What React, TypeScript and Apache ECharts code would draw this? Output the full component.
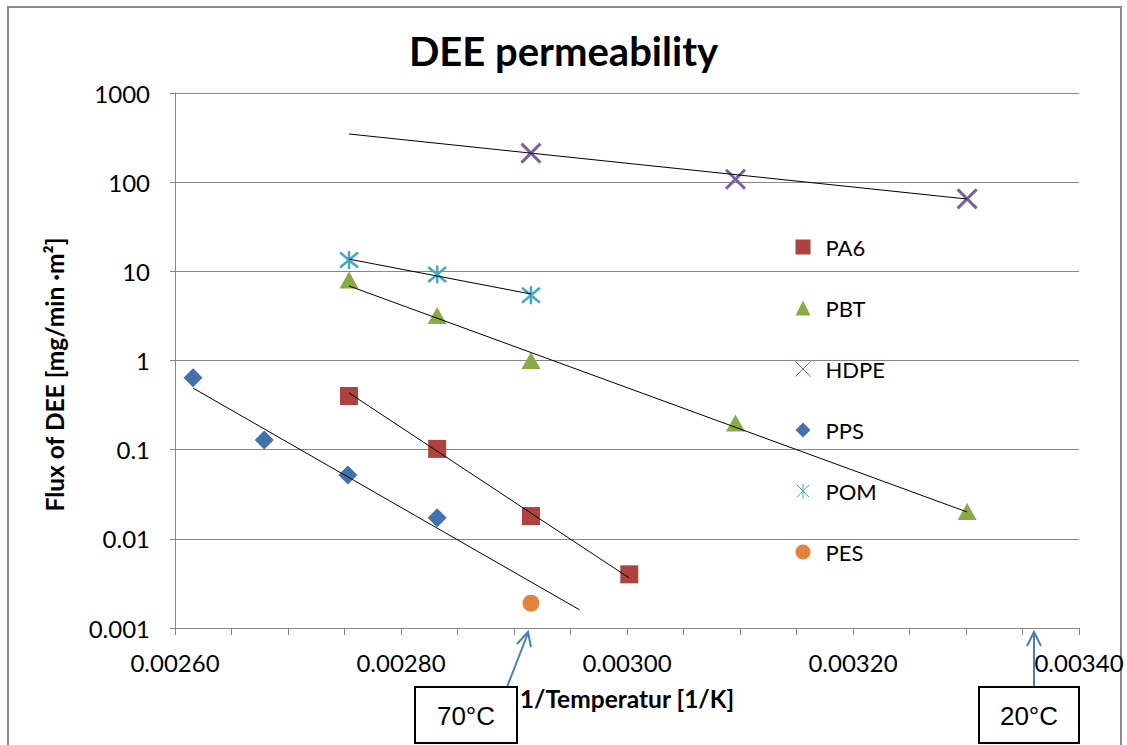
import React, { useEffect, useRef } from "react";
import * as echarts from "echarts";

// 1/T values [1/K]
const invT_PA6 = [0.002754, 0.002832, 0.002915, 0.003002];
const flux_PA6 = [0.4, 0.102, 0.018, 0.004];

const invT_PBT = [0.002754, 0.002832, 0.002915, 0.003096, 0.003301];
const flux_PBT = [8.0, 3.2, 1.0, 0.199, 0.0202];

const invT_HDPE = [0.002915, 0.003096, 0.003301];
const flux_HDPE = [212, 108, 65];

const invT_PPS = [0.002616, 0.002679, 0.002753, 0.002832];
const flux_PPS = [0.64, 0.128, 0.052, 0.0172];

const invT_POM = [0.002754, 0.002832, 0.002915];
const flux_POM = [13.4, 9.2, 5.4];

const invT_PES = [0.002915];
const flux_PES = [0.0019];

// trend line end points
const trendX_PA6 = [0.002754, 0.003002];
const trendY_PA6 = [0.432, 0.00364];
const trendX_PBT = [0.002754, 0.003301];
const trendY_PBT = [6.85, 0.02];
const trendX_HDPE = [0.002754, 0.003301];
const trendY_HDPE = [347, 64.7];
const trendX_PPS = [0.002616, 0.002958];
const trendY_PPS = [0.49, 0.0016];
const trendX_POM = [0.002754, 0.002915];
const trendY_POM = [13.7, 5.57];

const xTicks = { min: 0.0026, max: 0.0034, interval: 0.0002 };
const yTicks = { min: 0.001, max: 1000 };

const FONT = "Lato, 'Noto Sans', sans-serif";
const GRAY = "#878787";

const zip = (xs: number[], ys: number[]) => xs.map((x, i) => [x, ys[i]]);

export default function App() {
  const ref = useRef<HTMLDivElement>(null);
  useEffect(() => {
    if (!ref.current) return;
    const chart = echarts.init(ref.current, undefined, { renderer: "svg" });
    const scatter = (name: string, xs: number[], ys: number[], extra: any) => ({
      name,
      type: "scatter",
      data: zip(xs, ys),
      z: 3,
      ...extra,
      itemStyle: { opacity: 1, ...extra.itemStyle },
    });
    const trend = (name: string, xs: number[], ys: number[]) => ({
      name,
      type: "line",
      data: zip(xs, ys),
      symbol: "none",
      silent: true,
      z: 4,
      lineStyle: { color: "#000", width: 1 },
    });
    chart.setOption({
      animation: false,
      backgroundColor: "#fff",
      textStyle: { fontFamily: FONT },
      title: {
        text: "DEE permeability",
        left: "center",
        top: 26,
        textStyle: { fontFamily: FONT, fontSize: 40, fontWeight: "bold", color: "#000" },
      },
      grid: { left: 175, right: 48, top: 93, bottom: 117 },
      legend: {
        orient: "vertical",
        left: 790,
        top: 231,
        itemWidth: 15,
        itemHeight: 15,
        itemGap: 39,
        textStyle: {
          fontFamily: FONT,
          fontSize: 22,
          lineHeight: 22,
          color: "#000",
          padding: [0, 0, 0, 10],
        },
        data: [
          { name: "PA6" },
          { name: "PBT" },
          { name: "HDPE", itemStyle: { borderWidth: 1 } },
          { name: "PPS" },
          { name: "POM", itemStyle: { borderWidth: 1 } },
          { name: "PES" },
        ],
      },
      xAxis: {
        type: "value",
        min: xTicks.min,
        max: xTicks.max,
        interval: xTicks.interval,
        name: "1/Temperatur [1/K]",
        nameLocation: "middle",
        nameGap: 58,
        nameTextStyle: { fontFamily: FONT, fontSize: 24.5, fontWeight: "bold", color: "#000" },
        axisLine: { onZero: false, lineStyle: { color: GRAY, width: 1 } },
        axisTick: { show: true, length: 7, lineStyle: { color: GRAY } },
        minorTick: { show: true, splitNumber: 4, length: 7, lineStyle: { color: GRAY } },
        splitLine: { show: false },
        axisLabel: {
          margin: 22,
          fontFamily: FONT,
          fontSize: 24,
          color: "#000",
          formatter: (v: number) => v.toFixed(5),
        },
      },
      yAxis: {
        type: "log",
        logBase: 10,
        min: yTicks.min,
        max: yTicks.max,
        name: "Flux of DEE [mg/min ·m²]",
        nameLocation: "middle",
        nameGap: 108,
        nameTextStyle: {
          fontFamily: FONT,
          fontSize: 24.5,
          fontWeight: "bold",
          color: "#000",
          padding: [0, 28, 0, 0],
        },
        axisLine: { show: true, lineStyle: { color: GRAY, width: 1 } },
        axisTick: { show: true, length: 5, lineStyle: { color: GRAY } },
        splitLine: { show: true, lineStyle: { color: GRAY, width: 1 } },
        axisLabel: {
          margin: 25,
          fontFamily: FONT,
          fontSize: 24,
          color: "#000",
          formatter: (v: number) => String(Number(v.toPrecision(6))),
        },
      },
      series: [
        scatter("PA6", invT_PA6, flux_PA6, {
          symbol: "rect",
          symbolSize: 18,
          itemStyle: { color: "#AE423E" },
        }),
        scatter("PBT", invT_PBT, flux_PBT, {
          symbol: "triangle",
          symbolSize: [19, 17],
          itemStyle: { color: "#88AB46" },
        }),
        scatter("HDPE", invT_HDPE, flux_HDPE, {
          symbol: "path://M0,0L10,10M10,0L0,10",
          symbolSize: 19,
          itemStyle: { color: "rgba(0,0,0,0)", borderColor: "#7D60A0", borderWidth: 3 },
        }),
        scatter("PPS", invT_PPS, flux_PPS, {
          symbol: "diamond",
          symbolSize: 19,
          itemStyle: { color: "#4371AB" },
        }),
        scatter("POM", invT_POM, flux_POM, {
          symbol: "path://M0,0L10,10M10,0L0,10M5,-1L5,11",
          symbolSize: 18,
          itemStyle: { color: "rgba(0,0,0,0)", borderColor: "#46A7C2", borderWidth: 2.5 },
        }),
        scatter("PES", invT_PES, flux_PES, {
          symbol: "circle",
          symbolSize: 17,
          itemStyle: { color: "#E0833C" },
        }),
        trend("PA6 trend", trendX_PA6, trendY_PA6),
        trend("PBT trend", trendX_PBT, trendY_PBT),
        trend("HDPE trend", trendX_HDPE, trendY_HDPE),
        trend("PPS trend", trendX_PPS, trendY_PPS),
        trend("POM trend", trendX_POM, trendY_POM),
      ],
      graphic: [
        {
          type: "rect",
          shape: { x: 8, y: 7, width: 1113, height: 800 },
          style: { fill: "none", stroke: "#8a8a8a", lineWidth: 2 },
          silent: true,
          z: -1,
        },
        {
          type: "line",
          shape: { x1: 507, y1: 687, x2: 528, y2: 633 },
          style: { stroke: "#4A7EBB", lineWidth: 2 },
        },
        {
          type: "polyline",
          shape: { points: [[517, 644], [528, 632], [531, 647]] },
          style: { stroke: "#4A7EBB", lineWidth: 2, fill: "none" },
        },
        {
          type: "line",
          shape: { x1: 1034, y1: 687, x2: 1034, y2: 633 },
          style: { stroke: "#4A7EBB", lineWidth: 2 },
        },
        {
          type: "polyline",
          shape: { points: [[1027, 646], [1034, 632], [1041, 646]] },
          style: { stroke: "#4A7EBB", lineWidth: 2, fill: "none" },
        },
        {
          type: "rect",
          shape: { x: 415, y: 687, width: 102, height: 56 },
          style: { fill: "#fff", stroke: "#000", lineWidth: 2 },
        },
        {
          type: "text",
          x: 466,
          y: 716,
          style: {
            text: "70°C",
            fontFamily: "'Liberation Sans', Arial, sans-serif",
            fontSize: 26,
            fill: "#000",
            align: "center",
            verticalAlign: "middle",
          },
        },
        {
          type: "rect",
          shape: { x: 979, y: 687, width: 100, height: 56 },
          style: { fill: "#fff", stroke: "#000", lineWidth: 2 },
        },
        {
          type: "text",
          x: 1029,
          y: 716,
          style: {
            text: "20°C",
            fontFamily: "'Liberation Sans', Arial, sans-serif",
            fontSize: 26,
            fill: "#000",
            align: "center",
            verticalAlign: "middle",
          },
        },
      ],
    });
    return () => chart.dispose();
  }, []);
  return (
    <div
      ref={ref}
      style={{ position: "fixed", left: 0, top: 0, width: 1127, height: 745 }}
    />
  );
}
